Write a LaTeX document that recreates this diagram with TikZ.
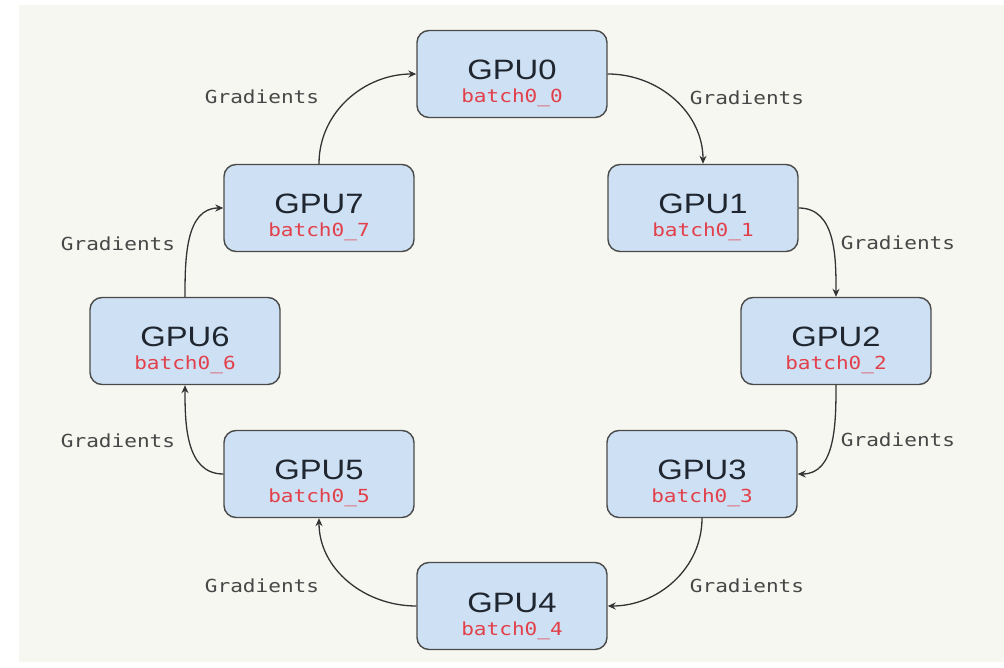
\documentclass[tikz,border=0pt]{standalone}
\usepackage{fontspec}
\usepackage{graphicx}
\usetikzlibrary{arrows.meta}
\newfontfamily\gpufont{Liberation Sans}
\newfontfamily\monofont{DejaVu Sans Mono}
\definecolor{bgcream}{HTML}{F7F7F2}
\definecolor{boxfill}{HTML}{CEE0F3}
\definecolor{boxline}{HTML}{4A4A4A}
\definecolor{gputxt}{HTML}{1F2630}
\definecolor{batchred}{HTML}{E2404A}
\definecolor{gradtxt}{HTML}{474747}
\definecolor{edgecol}{HTML}{333333}
\newcommand\hstretch[1]{\scalebox{1.17}[1]{#1}}
\tikzset{
  gpubox/.style={draw=boxline, line width=1.4pt, fill=boxfill, rounded corners=12pt,
    minimum width=190pt, minimum height=87pt, inner sep=0pt},
  gputext/.style={anchor=base, inner sep=0pt, text=gputxt, font=\gpufont\fontsize{28}{30}\selectfont},
  batchtext/.style={anchor=base, inner sep=0pt, text=batchred, font=\monofont\fontsize{18}{20}\selectfont},
  gradlabel/.style={inner sep=0pt, text=gradtxt, font=\monofont\fontsize{18}{20}\selectfont},
  flow/.style={draw=edgecol, line width=1.3pt, -{Stealth[length=8pt,width=7pt]}}
}
\begin{document}
\begin{tikzpicture}[x=1pt,y=1pt]
\useasboundingbox (0,0) rectangle (1004,667);
\fill[white] (0,0) rectangle (1004,667);
\fill[bgcream] (19,5) rectangle (1004,662);
\foreach \i/\x/\y in {0/512/593, 1/703/459, 2/836/326, 3/702/193, 4/512/61, 5/319/193, 6/185/326, 7/319/459}{
  \node[gpubox] (g\i) at (\x,\y) {};
  \node[gputext] (t\i) at ([yshift=-6pt]g\i.center) {\hstretch{GPU\i}};
  \node[batchtext] (b\i) at ([yshift=-29pt]g\i.center) {\hstretch{batch0\_\i}};
}
\draw[flow] (g0.east) to[out=0,in=90] (g1.north);
\draw[flow] (g1.east) to[out=0,in=90] (g2.north);
\draw[flow] (g2.south) to[out=-90,in=0] (g3.east);
\draw[flow] (g3.south) to[out=-90,in=0] (g4.east);
\draw[flow] (g4.west) to[out=180,in=-90] (g5.south);
\draw[flow] (g5.west) to[out=180,in=-90] (g6.south);
\draw[flow] (g6.north) to[out=90,in=180] (g7.west);
\draw[flow] (g7.north) to[out=90,in=180] (g0.west);
\node[gradlabel] (l01) at (747,569) {\hstretch{Gradients}};
\node[gradlabel] (l12) at (898,424) {\hstretch{Gradients}};
\node[gradlabel] (l23) at (898,227) {\hstretch{Gradients}};
\node[gradlabel] (l34) at (747,81) {\hstretch{Gradients}};
\node[gradlabel] (l45) at (262,81) {\hstretch{Gradients}};
\node[gradlabel] (l56) at (118,226) {\hstretch{Gradients}};
\node[gradlabel] (l67) at (118,423) {\hstretch{Gradients}};
\node[gradlabel] (l70) at (262,570) {\hstretch{Gradients}};
\end{tikzpicture}
\end{document}
